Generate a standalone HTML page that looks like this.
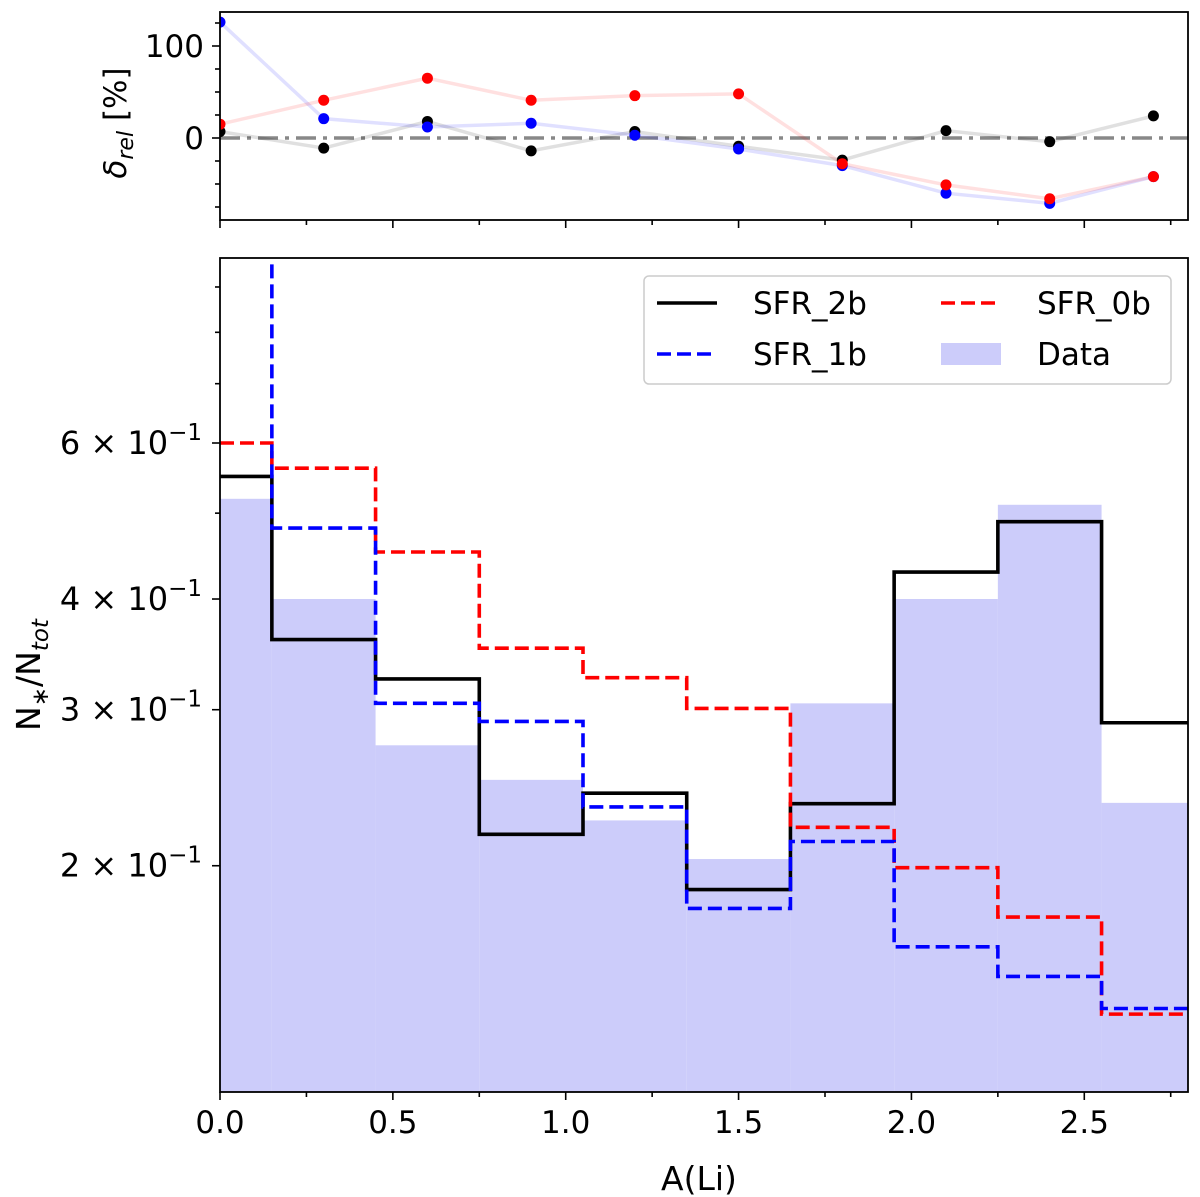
<!DOCTYPE html>
<html><head><meta charset="utf-8"><style>body{margin:0;background:#fff}svg{display:block}text{font-family:"DejaVu Sans","Liberation Sans",sans-serif;fill:#000}</style></head>
<body>
<svg id="chart" width="1200" height="1197" xmlns="http://www.w3.org/2000/svg"></svg>
<script>
const edges=[0,0.15,0.45,0.75,1.05,1.35,1.65,1.95,2.25,2.55,2.8];
const dataVals=[0.519,0.40,0.2735,0.25,0.225,0.2035,0.305,0.40,0.511,0.2355];
const sfr2b=[0.55,0.36,0.325,0.217,0.2415,0.188,0.235,0.429,0.489,0.29];
const sfr1b=[1.2,0.481,0.305,0.291,0.233,0.179,0.213,0.162,0.150,0.138];
const sfr0b=[0.60,0.562,0.452,0.352,0.326,0.301,0.221,0.199,0.175,0.136];
const relX=[0,0.3,0.6,0.9,1.2,1.5,1.8,2.1,2.4,2.7];
const relRed=[15,41,65,41,46,48,-28,-51,-66,-42];
const relBlack=[7,-11,18,-14,7,-9,-24,8,-4,24];
const relBlue=[126,21,12,16,3,-12,-30,-60,-71,-42];
const xTicks=[0,0.5,1.0,1.5,2.0,2.5];
const yMajor=[0.2,0.3,0.4,0.6];
const yMajorLbl=["2","3","4","6"];
const yMinor=[0.5,0.7,0.8,0.9];
const relTicks=[0,100];

const NS="http://www.w3.org/2000/svg";
const svg=document.getElementById('chart');
function el(t,a,p){const e=document.createElementNS(NS,t);for(const k in a)e.setAttribute(k,a[k]);(p||svg).appendChild(e);return e;}
const L=220,R=1188;
const x=v=>L+(v-0)/(2.8)*(R-L);
const yB=v=>443-(Math.log10(v)-Math.log10(0.6))*886;
const yT=v=>138-v*0.92;
const BT=258,BB=1092,TT=12,TB=220;

const defs=el('defs',{});
const cp=el('clipPath',{id:'cb'},defs);el('rect',{x:L,y:BT,width:R-L,height:BB-BT},cp);
const cpt=el('clipPath',{id:'ct'},defs);el('rect',{x:L,y:TT,width:R-L,height:TB-TT},cpt);

const gt=el('g',{'clip-path':'url(#ct)'});


el('line',{x1:L,x2:R,y1:yT(0),y2:yT(0),stroke:'#888','stroke-width':3.5,'stroke-dasharray':'20,7,4,7'},gt);
function relSeries(vals,col,lc,name){
  const pts=relX.map((v,i)=>x(v)+','+yT(vals[i])).join(' ');
  const pl=el('polyline',{points:pts,fill:'none',stroke:lc,'stroke-width':3.5},gt);
  
  
  relX.forEach((v,i)=>{const c=el('circle',{cx:x(v),cy:yT(vals[i]),r:5.5,fill:col},gt);
    
    });
}
relSeries(relBlack,'#000','rgba(0,0,0,0.12)','rel-sfr2b');
relSeries(relBlue,'#00f','rgba(0,0,255,0.12)','rel-sfr1b');
relSeries(relRed,'#f00','rgba(255,0,0,0.12)','rel-sfr0b');
const ft=el('rect',{x:L,y:TT,width:R-L,height:TB-TT,fill:'none',stroke:'#000','stroke-width':1.8});

for(let v=-75;v<=125;v+=25){const yy=yT(v);if(yy<TT||yy>TB)continue;const maj=relTicks.includes(v);
  el('line',{x1:L,x2:L-(maj?8:5),y1:yy,y2:yy,stroke:'#000','stroke-width':1.6});
  if(maj){const t=el('text',{x:L-16,y:yy+11,'text-anchor':'end','font-size':31});t.textContent=v;
    }}
for(let v=0;v<=2.76;v+=0.25){const maj=Math.abs(v*2-Math.round(v*2))<1e-6;
  el('line',{x1:x(v),x2:x(v),y1:TB,y2:TB+(maj?8:5),stroke:'#000','stroke-width':1.6});}
const ty=el('text',{transform:'translate(126,123) rotate(-90)','text-anchor':'middle','font-size':31});
ty.innerHTML='<tspan font-style="italic">δ</tspan><tspan font-size="22" dy="7" font-style="italic">rel</tspan><tspan dy="-7"> [%]</tspan>';


const gb=el('g',{'clip-path':'url(#cb)'});

dataVals.forEach((v,i)=>{const r=el('rect',{x:x(edges[i]),y:yB(v),width:x(edges[i+1])-x(edges[i]),height:BB-yB(v)+5,fill:'#ccccfa'},gb);
  });
function stepPath(vals){let d='';vals.forEach((v,i)=>{d+=(i?'L':'M')+x(edges[i])+','+yB(v)+'L'+x(edges[i+1])+','+yB(v);});return d;}
function stepSeries(vals,col,dash,name){const p=el('path',{d:stepPath(vals),fill:'none',stroke:col,'stroke-width':3.6,'stroke-dasharray':dash||'none'},gb);
  }
stepSeries(sfr2b,'#000','','sfr2b-step');
stepSeries(sfr0b,'#f00','14,6','sfr0b-step');
stepSeries(sfr1b,'#00f','14,6','sfr1b-step');
const fb=el('rect',{x:L,y:BT,width:R-L,height:BB-BT,fill:'none',stroke:'#000','stroke-width':1.8});

yMajor.forEach((v,i)=>{const yy=yB(v);el('line',{x1:L,x2:L-8,y1:yy,y2:yy,stroke:'#000','stroke-width':1.6});
  const t=el('text',{x:L-18,y:yy+11,'text-anchor':'end','font-size':32});
  t.innerHTML=yMajorLbl[i]+' × 10<tspan font-size="23" dy="-14">−1</tspan>';
  });
yMinor.forEach(v=>{const yy=yB(v);el('line',{x1:L,x2:L-5,y1:yy,y2:yy,stroke:'#000','stroke-width':1.6});});
for(let v=0;v<=2.76;v+=0.25){const maj=Math.abs(v*2-Math.round(v*2))<1e-6;
  el('line',{x1:x(v),x2:x(v),y1:BB,y2:BB+(maj?8:5),stroke:'#000','stroke-width':1.6});}
xTicks.forEach(v=>{const t=el('text',{x:x(v),y:BB+41,'text-anchor':'middle','font-size':31});t.textContent=v.toFixed(1);
  });
const xt=el('text',{x:x(1.4)-5,y:1190,'text-anchor':'middle','font-size':33});xt.textContent='A(Li)';

const yt=el('text',{transform:'translate(40,675) rotate(-90)','text-anchor':'middle','font-size':33});
yt.innerHTML='N<tspan font-size="23" dy="8">∗</tspan><tspan dy="-8">/N</tspan><tspan font-size="23" dy="8" font-style="italic">tot</tspan>';


const lg=el('g',{});
el('rect',{x:644,y:276,width:527,height:108,rx:5,fill:'#fff',stroke:'#ccc','stroke-width':1.5},lg);
const items=[[657,303,'SFR_2b','#000',''],[941,303,'SFR_0b','#f00','14,6'],[657,354,'SFR_1b','#00f','14,6'],[941,354,'Data','#ccccfa','patch']];
items.forEach(it=>{const g=el('g',{},lg);
  if(it[4]==='patch')el('rect',{x:it[0],y:it[1]-11,width:60,height:22,fill:it[3]},g);
  else el('line',{x1:it[0],x2:it[0]+60,y1:it[1],y2:it[1],stroke:it[3],'stroke-width':3.6,'stroke-dasharray':it[4]||'none'},g);
  const t=el('text',{x:it[0]+96,y:it[1]+11,'font-size':31},g);t.textContent=it[2];});
</script>
</body></html>
